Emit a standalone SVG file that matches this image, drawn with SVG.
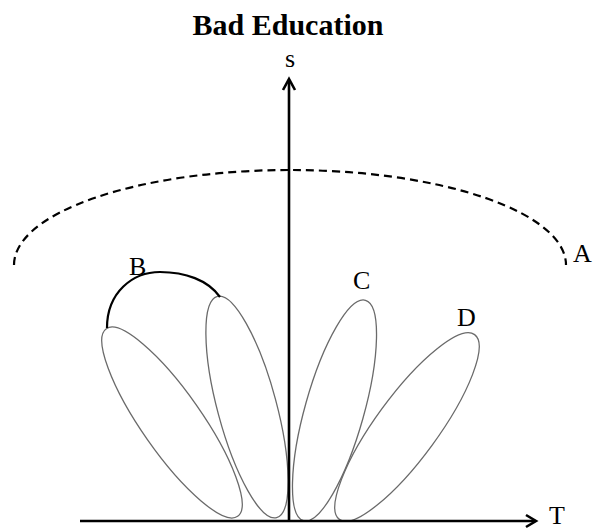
<svg xmlns="http://www.w3.org/2000/svg" width="593" height="529" viewBox="0 0 593 529">
  <style>
    .lbl { font-family: "Liberation Serif", "Times New Roman", serif; font-size: 26px; fill: #000; }
    .title { font-family: "Liberation Serif", "Times New Roman", serif; font-size: 30px; font-weight: bold; fill: #000; }
    .lobe { fill: none; stroke: #6a6a6a; stroke-width: 1.3; }
    .axis { fill: none; stroke: #000; stroke-width: 2.6; }
  </style>
  <rect width="593" height="529" fill="#fff"/>
  <text class="title" x="288" y="35" text-anchor="middle">Bad Education</text>

  <g id="A">
    <path d="M14,265 A276,95 0 0 1 566,265" fill="none" stroke="#000" stroke-width="2.2" stroke-dasharray="8 5"/>
    <text class="lbl" x="573" y="262">A</text>
  </g>
  <g id="B">
    <ellipse class="lobe" cx="172" cy="422.5" rx="114.5" ry="30" transform="rotate(55 172 422.5)"/>
    <ellipse class="lobe" cx="247" cy="407" rx="114.5" ry="29.5" transform="rotate(75 247 407)"/>
    <path d="M107,328 C107,292 133,272 160,272 C185,272 208,280 220,297" fill="none" stroke="#000" stroke-width="2.2"/>
    <text class="lbl" x="129" y="275">B</text>
  </g>
  <g id="C">
    <ellipse class="lobe" cx="334.5" cy="410.5" rx="114.5" ry="29.5" transform="rotate(-74.3 334.5 410.5)"/>
    <text class="lbl" x="353" y="289">C</text>
  </g>
  <g id="D">
    <ellipse class="lobe" cx="407" cy="427" rx="114.5" ry="31" transform="rotate(-53.8 407 427)"/>
    <text class="lbl" x="457" y="326">D</text>
  </g>
  <g id="connectors">
    <line class="axis" x1="289" y1="522" x2="289" y2="80"/>
    <polyline class="axis" points="283,90 289,79 295,90"/>
    <line class="axis" x1="80" y1="521" x2="535" y2="521"/>
    <polyline class="axis" points="526,515 536,521 526,527"/>
  </g>
  <text class="lbl" x="290" y="67" text-anchor="middle">s</text>
  <text class="lbl" x="549" y="524">T</text>
</svg>
